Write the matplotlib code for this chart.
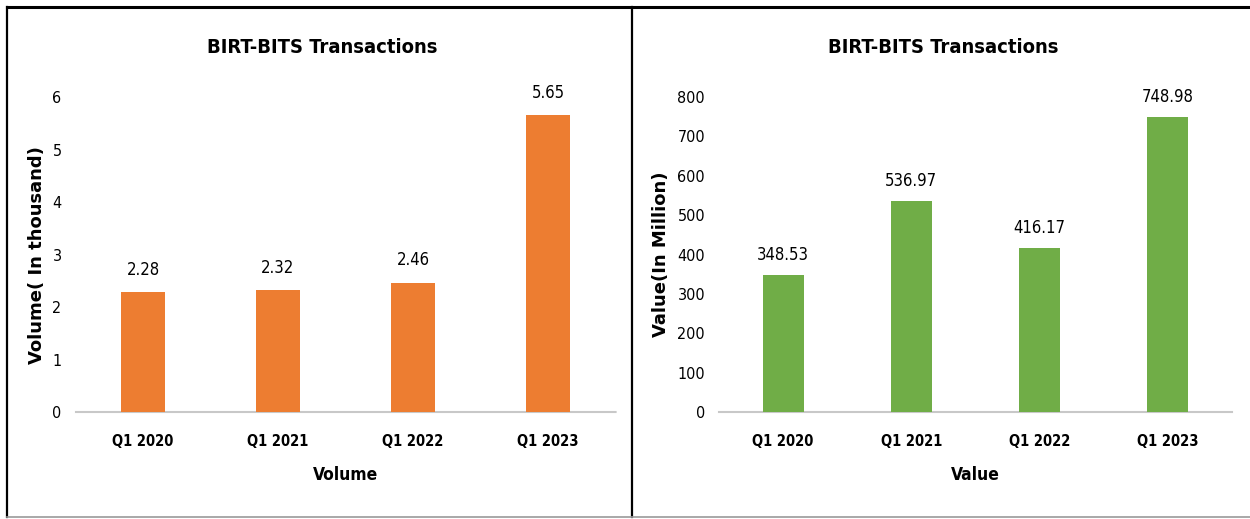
import numpy as np
import matplotlib
matplotlib.use('Agg')
import matplotlib.pyplot as plt
from matplotlib.lines import Line2D

quarters = ['Q1 2020', 'Q1 2021', 'Q1 2022', 'Q1 2023']
volume = [2.28, 2.32, 2.46, 5.65]
value = [348.53, 536.97, 416.17, 748.98]
vol_ticks = [0, 1, 2, 3, 4, 5, 6]
val_ticks = [0, 100, 200, 300, 400, 500, 600, 700, 800]

# condensed face stands in for Calibri
cond = dict(family='DejaVu Sans', stretch='condensed')

fig = plt.figure(figsize=(12.5, 5.19), dpi=100)

def panel(rect, data, ticks, color, ylabel, xlabel, ylab_x, off):
    ax = fig.add_axes(rect)
    x = np.arange(len(quarters))
    ax.bar(x, data, width=0.32, color=color, zorder=3)
    ax.set_xlim(-0.5, len(quarters) - 0.5)
    ax.set_ylim(0, ticks[-1])
    ax.set_yticks(ticks)
    ax.set_yticklabels([str(t) for t in ticks], fontsize=11.5, **cond)
    ax.set_xticks(x)
    ax.set_xticklabels(quarters, fontsize=10.5, fontweight='bold', **cond)
    ax.tick_params(length=0)
    ax.tick_params(axis='x', pad=16)
    ax.tick_params(axis='y', pad=10)
    for s in ['top', 'right', 'left']:
        ax.spines[s].set_visible(False)
    ax.spines['bottom'].set_color('#c8c8c8')
    ax.spines['bottom'].set_linestyle((0, (1, 1)))
    ax.spines['bottom'].set_linewidth(1.5)
    for xi, d in zip(x, data):
        ax.text(xi, d + off, '{:.2f}'.format(d), ha='center', va='bottom',
                fontsize=12, **cond)
    ax.set_xlabel(xlabel, fontsize=12.5, fontweight='bold', labelpad=12, **cond)
    fig.text(ylab_x, rect[1] + rect[3] / 2, ylabel, rotation=90, ha='center',
             va='center', fontsize=13, fontweight='bold', family='DejaVu Sans')
    return ax

panel([0.0604, 0.206, 0.432, 0.607], volume, vol_ticks, '#ED7D31',
      'Volume( In thousand)', 'Volume', 0.0296, 0.26)
panel([0.5752, 0.206, 0.4104, 0.607], value, val_ticks, '#70AD47',
      'Value(In Million)', 'Value', 0.529, 28)

fig.text(0.2575, 0.909, 'BIRT-BITS Transactions', ha='center', va='center',
         fontsize=14.5, fontweight='bold', **cond)
fig.text(0.7545, 0.909, 'BIRT-BITS Transactions', ha='center', va='center',
         fontsize=14.5, fontweight='bold', **cond)

# frame lines
fig.add_artist(Line2D([0.0056, 1.0], [0.9865, 0.9865], color='black', lw=2.2))
fig.add_artist(Line2D([0.0056, 0.0056], [0.004, 0.9865], color='black', lw=1.6))
fig.add_artist(Line2D([0.5056, 0.5056], [0.004, 0.9865], color='black', lw=1.6))
fig.add_artist(Line2D([0.0056, 1.0], [0.004, 0.004], color='#999999', lw=1.2))

fig.savefig('out.png', dpi=100)
